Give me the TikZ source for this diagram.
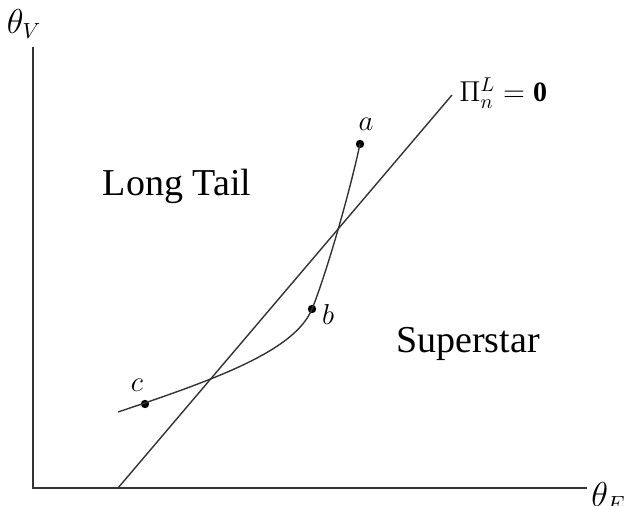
\documentclass[tikz,border=0pt]{standalone}
\usepackage{fontspec}
\setmainfont{Liberation Serif}
\begin{document}
\begin{tikzpicture}[x=0.5pt,y=-0.5pt,
  ln/.style={line width=0.7pt, draw=black!80},
  dot/.style={circle, fill=black, inner sep=0pt, minimum size=4.2pt},
  lbl/.style={font=\fontsize{15}{15}\selectfont},
  axlbl/.style={font=\fontsize{16}{16}\selectfont},
  region/.style={font=\fontsize{19}{19}\selectfont}]
\useasboundingbox (0,0) rectangle (625,506);
% axes
\coordinate (O) at (33,488);
\coordinate (ytop) at (33,47);
\coordinate (xend) at (587,488);
\draw[ln] (ytop) -- (O) -- (xend);
\node[axlbl] (thv) at (24,24) {$\theta_V$};
\node[axlbl, anchor=west, inner sep=0pt] (the) at (591,497) {$\theta_E$};
% diagonal line
\coordinate (d0) at (118,488);
\coordinate (d1) at (452,95);
\draw[ln] (d0) -- (d1);
\node[anchor=west, font=\fontsize{14}{14}\selectfont, inner sep=0pt] (pi) at (459,93) {$\Pi_n^L = \mathbf{0}$};
% points
\node[dot] (a) at (360,144) {};
\node[dot] (b) at (312,309) {};
\node[dot] (c) at (145,404) {};
\coordinate (cstart) at (118,412);
% curve
\draw[ln] (cstart) .. controls (220,378) and (295,350) .. (b.center)
  .. controls (324,280) and (348,200) .. (a.center);
\node[lbl] (la) at (366,124) {$a$};
\node[lbl] (lb) at (328,315) {$b$};
\node[lbl] (lc) at (137,385) {$c$};
% region labels
\node[region] (lt) at (177,186) {Long Tail};
\node[region] (ss) at (468,344) {Superstar};
\end{tikzpicture}
\end{document}
